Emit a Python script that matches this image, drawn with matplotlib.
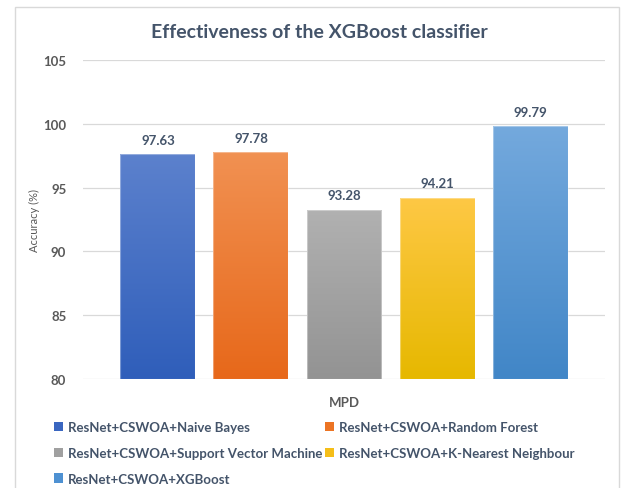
import numpy as np
import matplotlib
matplotlib.use("Agg")
import matplotlib.pyplot as plt
from matplotlib.colors import LinearSegmentedColormap
from matplotlib.patches import Rectangle, Patch

plt.rcParams['font.family'] = ['Lato', 'DejaVu Sans']

# Data
models = [
    "ResNet+CSWOA+Naive Bayes",
    "ResNet+CSWOA+Random Forest",
    "ResNet+CSWOA+Support Vector Machine",
    "ResNet+CSWOA+K-Nearest Neighbour",
    "ResNet+CSWOA+XGBoost",
]
accuracy = [97.63, 97.78, 93.28, 94.21, 99.79]
y_ticks = [80, 85, 90, 95, 100, 105]
category = "MPD"

# Gradient colours per bar (top, bottom)
top_colors = ["#5C81CD", "#F19152", "#B1B1B1", "#FEC845", "#74A9DD"]
bottom_colors = ["#2F5EBA", "#E7681A", "#939393", "#E6B800", "#4186C7"]
legend_colors = ["#3A66C0", "#EC7424", "#A0A0A0", "#F5BE18", "#4E91D2"]

title_color = "#44546A"
tick_color = "#595959"

fig = plt.figure(figsize=(6.21, 4.89), dpi=100)
fig.patch.set_facecolor("white")

# Light chart-area border
fig.add_artist(Rectangle((15 / 621, -0.05), (619 - 15) / 621, 1.05 - 8 / 489,
                         transform=fig.transFigure, fill=False,
                         edgecolor="#D9D9D9", linewidth=1.0))

ax = fig.add_axes([83 / 621, 1 - 380 / 489, (605 - 83) / 621, (380 - 61) / 489])
ax.set_facecolor("none")

x = np.arange(len(models))
width = 0.806
bars = ax.bar(x, [a - y_ticks[0] for a in accuracy], bottom=y_ticks[0],
              width=width, color="none", edgecolor="none", zorder=3)

# Fill each bar with a vertical gradient clipped to the bar shape
for bar, ctop, cbot in zip(bars, top_colors, bottom_colors):
    cmap = LinearSegmentedColormap.from_list("g", [cbot, ctop])
    x0, y0 = bar.get_x(), bar.get_y()
    w, h = bar.get_width(), bar.get_height()
    grad = np.linspace(0, 1, 256).reshape(-1, 1)
    im = ax.imshow(grad, cmap=cmap, origin="lower", aspect="auto",
                   extent=[x0, x0 + w, y0, y0 + h], zorder=3,
                   interpolation="bicubic")
    im.set_clip_path(bar)
    ax.add_patch(Rectangle((x0, y0), w, h, fill=False,
                           edgecolor=(1, 1, 1, 0.35), linewidth=0.8, zorder=4))

ax.set_xlim(-0.805, len(models) - 1 + 0.805)
ax.set_ylim(y_ticks[0], y_ticks[-1])

for xi, val in zip(x, accuracy):
    ax.annotate(f"{val:.2f}", (xi, val), xytext=(0, 6), textcoords="offset points",
                ha="center", va="bottom", fontsize=9.5, fontweight="bold",
                color=title_color, zorder=5)

ax.set_yticks(y_ticks)
ax.set_yticklabels([str(t) for t in y_ticks], fontsize=9.5, fontweight="bold",
                   color=tick_color)
ax.tick_params(axis="y", length=0, pad=12)
ax.set_xticks([])
ax.grid(axis="y", color="#D9D9D9", linewidth=0.9, zorder=0)
ax.set_axisbelow(True)
for s in ax.spines.values():
    s.set_visible(False)

ax.set_ylabel("Accuracy (%)", fontsize=8, color=tick_color, labelpad=10)
ax.yaxis.set_label_coords(-(83 - 40) / 522, 0.5)
ax.set_xlabel(category, fontsize=9.5, fontweight="bold", color=tick_color, labelpad=12)

fig.text(0.515, 1 - 33 / 489, "Effectiveness of the XGBoost classifier",
         ha="center", va="center", fontsize=14, fontweight="bold", color=title_color)

# Legend laid out row by row in two columns
handles = [Patch(facecolor=c, edgecolor="none") for c in legend_colors]
order = [0, 2, 4, 1, 3]
leg = fig.legend([handles[i] for i in order], [models[i] for i in order],
                 ncol=2, loc="upper left", bbox_to_anchor=(54 / 621, 1 - 422 / 489),
                 frameon=False, fontsize=9.5, handlelength=0.7, handleheight=0.7,
                 handletextpad=0.35, columnspacing=0.2, labelspacing=1.05,
                 borderaxespad=0, borderpad=0)
for t in leg.get_texts():
    t.set_color(title_color)
    t.set_fontweight("bold")

fig.savefig("out.png", dpi=100, facecolor="white")
